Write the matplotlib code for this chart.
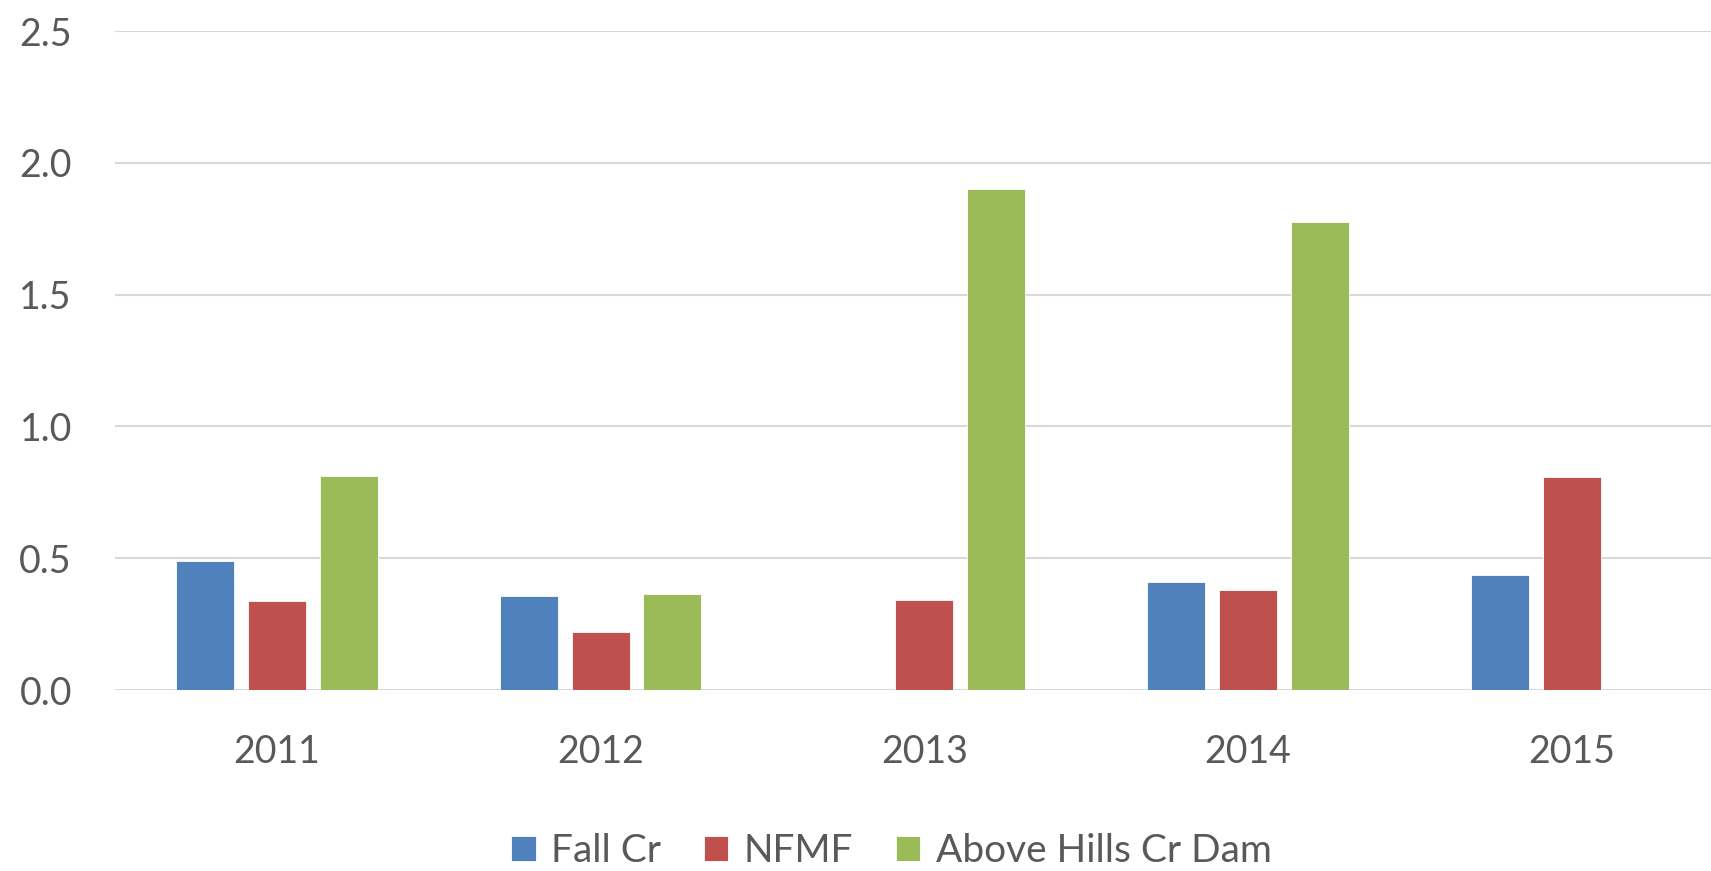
import numpy as np
import matplotlib
matplotlib.use("Agg")
import matplotlib.pyplot as plt

# values (nan = no bar)
years = ['2011', '2012', '2013', '2014', '2015']
fall_cr = [0.49, 0.356, np.nan, 0.408, 0.436]
nfmf = [0.338, 0.22, 0.34, 0.381, 0.807]
above_hills = [0.81, 0.366, 1.90, 1.776, np.nan]

series = [('Fall Cr', fall_cr, '#4F81BD'),
          ('NFMF', nfmf, '#C0504D'),
          ('Above Hills Cr Dam', above_hills, '#9BBB59')]

plt.rcParams['font.family'] = ['Lato', 'DejaVu Sans']
text_color = '#595959'

fig = plt.figure(figsize=(17.11, 8.71), dpi=100)
# plot area runs a little past the right edge, like the source
ax = fig.add_axes([0.0672, 0.2078, 0.946, 0.7566])

x = np.arange(len(years))
step = 0.222
width = 0.179
for i, (name, vals, color) in enumerate(series):
    ax.bar(x + (i - 1) * step, vals, width=width, color=color, label=name,
           edgecolor='white', linewidth=0.6, zorder=3)

ax.set_xlim(-0.5, len(years) - 0.5)
ax.set_ylim(0, 2.5)
ax.set_yticks([0.0, 0.5, 1.0, 1.5, 2.0, 2.5])
ax.set_yticklabels(['0.0', '0.5', '1.0', '1.5', '2.0', '2.5'])
ax.set_xticks(x)
ax.set_xticklabels(years)
ax.yaxis.grid(True, color='#D9D9D9', linewidth=1.5, zorder=0)
ax.set_axisbelow(True)
for s in ax.spines.values():
    s.set_visible(False)
ax.tick_params(axis='both', length=0, labelsize=27, labelcolor=text_color)
ax.tick_params(axis='y', pad=31)
ax.tick_params(axis='x', pad=32)

fig.legend(loc='center', bbox_to_anchor=(0.521, 0.023), ncol=3, frameon=False,
           fontsize=28, labelcolor=text_color, handlelength=0.62,
           handleheight=0.62, handletextpad=0.4, columnspacing=1.1)

fig.savefig('out.png', dpi=100)
